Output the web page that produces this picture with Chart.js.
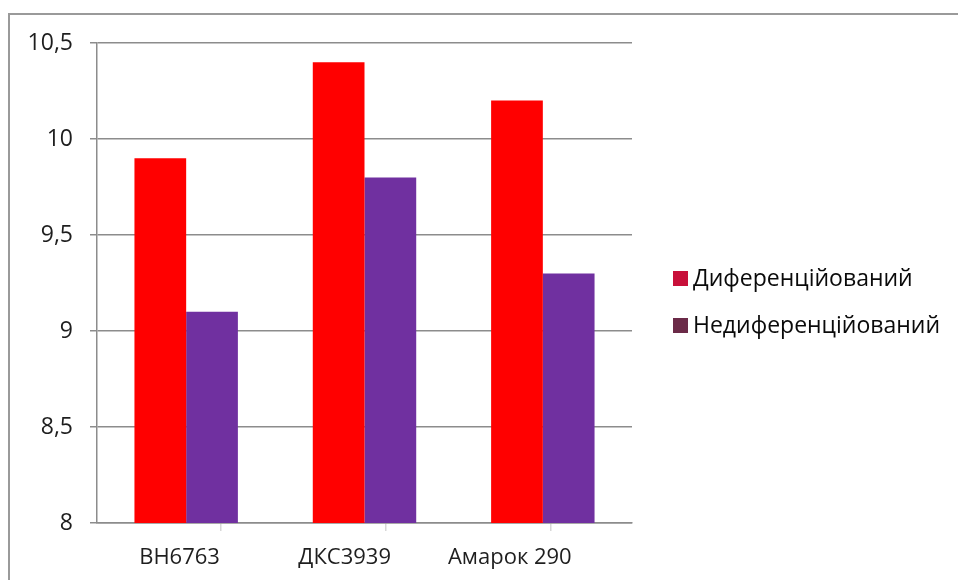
<!DOCTYPE html>
<html>
<head>
<meta charset="utf-8">
<script src="https://cdn.jsdelivr.net/npm/chart.js@4.4.1/dist/chart.umd.min.js"></script>
<style>
  html, body { margin: 0; padding: 0; background: #fff; }
  #wrap { position: relative; width: 958px; height: 580px; overflow: hidden; }
  #frame { position: absolute; left: 8px; top: 13px; width: 980px; height: 600px;
           border-top: 2px solid #9a9a9a; border-left: 2px solid #9a9a9a; }
  #c { position: absolute; left: 0; top: 0; }
</style>
</head>
<body>
<div id="wrap">
  <div id="frame"></div>
  <canvas id="c" width="958" height="580"></canvas>
</div>
<script>
// сорти
var sorts = ['ВН6763', 'ДКС3939', 'Амарок 290'];
// серії
var seriesNames = ['Диференційований', 'Недиференційований'];
var diferentsiiovanyi = [9.9, 10.4, 10.2];
var nediferentsiiovanyi = [9.1, 9.8, 9.3];
var yTicks = [8, 8.5, 9, 9.5, 10, 10.5];
// позиції підписів сортів на нижній осі (з проміжними рисками)
var xLabelTicks = [-0.5, 0, 0.5, 1, 1.5, 2, 2.5];

var barColors = ['#ff0000', '#7030a0'];
var legendColors = ['#c8103a', '#6b2a48'];

var fontFam = '"Open Sans", "Noto Sans", sans-serif';

// легенда праворуч від області графіка
var sideLegend = {
  id: 'sideLegend',
  afterDraw: function(chart) {
    var ctx = chart.ctx;
    var area = chart.chartArea;
    var x = area.right + 41;
    var y0 = area.top + 235;
    ctx.save();
    ctx.font = '23px ' + fontFam;
    ctx.textBaseline = 'middle';
    chart.data.datasets.forEach(function(ds, i) {
      var cy = y0 + i * 47;
      ctx.fillStyle = legendColors[i];
      ctx.fillRect(x, cy - 7, 15, 15);
      ctx.fillStyle = '#0a0a0a';
      ctx.fillText(ds.label, x + 20, cy + 1);
    });
    ctx.restore();
  }
};

new Chart(document.getElementById('c'), {
  type: 'bar',
  data: {
    labels: sorts,
    datasets: [
      { label: seriesNames[0], data: diferentsiiovanyi, backgroundColor: barColors[0] },
      { label: seriesNames[1], data: nediferentsiiovanyi, backgroundColor: barColors[1] }
    ]
  },
  options: {
    responsive: false,
    animation: false,
    layout: { padding: { top: 43, left: 20, right: 326, bottom: 0 } },
    datasets: {
      bar: { categoryPercentage: 0.58, barPercentage: 1.0 }
    },
    plugins: {
      legend: { display: false },
      tooltip: { enabled: false }
    },
    scales: {
      x: {
        display: false
      },
      // вісь з підписами сортів
      xl: {
        type: 'linear',
        position: 'bottom',
        bounds: 'data',
        min: -0.5,
        max: 2.74,
        offset: false,
        afterFit: function(scale) { scale.height = 57; },
        afterBuildTicks: function(scale) {
          scale.ticks = xLabelTicks.map(function(v) { return { value: v }; });
        },
        afterDataLimits: function(scale) {
          scale.min = -0.5;
          scale.max = 2.74;
        },
        grid: {
          drawOnChartArea: false,
          tickLength: 8,
          lineWidth: 1.5,
          color: function(c) {
            var v = c.tick ? c.tick.value : 0;
            if (v === -0.5) return '#8c8c8c';
            return Number.isInteger(v) ? 'rgba(0,0,0,0)' : '#d8d8d8';
          }
        },
        border: { color: '#8c8c8c', width: 1.5 },
        ticks: {
          padding: 14,
          color: '#1e1e1e',
          autoSkip: false,
          maxRotation: 0,
          font: { family: fontFam, size: 22 },
          callback: function(v) { return Number.isInteger(v) ? sorts[v] : ''; }
        }
      },
      y: {
        min: yTicks[0],
        max: yTicks[yTicks.length - 1],
        afterFit: function(scale) { scale.width = 77; },
        afterBuildTicks: function(scale) {
          scale.ticks = yTicks.map(function(v) { return { value: v }; });
        },
        grid: { color: '#8c8c8c', lineWidth: 1.5, tickLength: 7 },
        border: { color: '#8c8c8c', width: 1.5 },
        ticks: {
          padding: 17,
          color: '#1e1e1e',
          font: { family: fontFam, size: 23 },
          callback: function(v) { return String(v).replace('.', ','); }
        }
      }
    }
  },
  plugins: [sideLegend]
});
</script>
</body>
</html>
